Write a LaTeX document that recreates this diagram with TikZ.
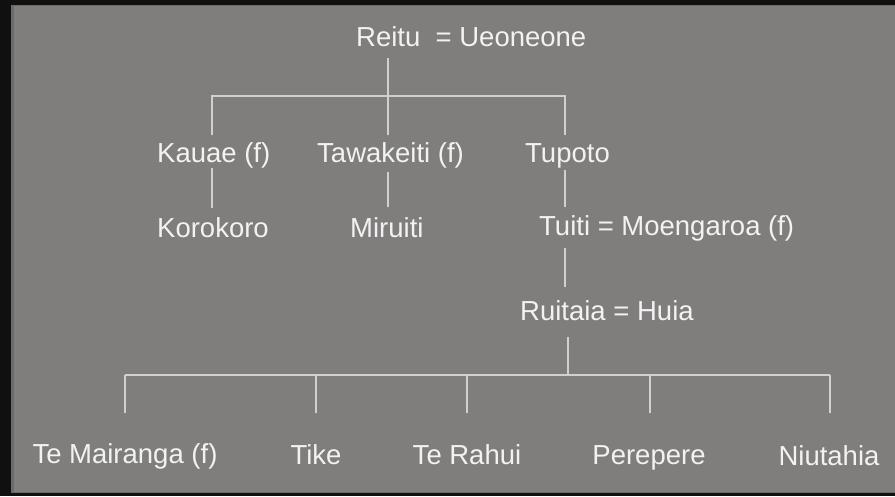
\documentclass[tikz,border=0pt]{standalone}
\usepackage{fontspec}
\setmainfont{Liberation Sans}
\definecolor{bg}{HTML}{807E7D}
\definecolor{edge}{HTML}{101010}
\definecolor{txt}{HTML}{F2F2F2}
\definecolor{ln}{HTML}{D0D0D0}
\begin{document}
\begin{tikzpicture}[x=1pt,y=-1pt,
  person/.style={inner sep=0pt,text=txt,font=\fontsize{27.5}{32}\selectfont},
  lw/.style={person,anchor=base west},
  lc/.style={person,anchor=base},
  link/.style={draw=ln,line width=1.6pt}]
\useasboundingbox (0,0) rectangle (895,496);
\fill[edge] (0,0) rectangle (895,496);
\fill[bg!85!black] (11,5) rectangle (895,493);
\fill[bg] (14,6) rectangle (895,492);
% people
\node[lw] (reitu) at (356,46) {Reitu\ \ = Ueoneone};
\node[lw] (kauae) at (157,162) {Kauae (f)};
\node[lw] (tawa) at (317,162) {Tawakeiti (f)};
\node[lw] (tupoto) at (525,162) {Tupoto};
\node[lw] (koro) at (157,237) {Korokoro};
\node[lw] (miru) at (350,237) {Miruiti};
\node[lw] (tuiti) at (539,235) {Tuiti = Moengaroa (f)};
\node[lw] (rui) at (520,320) {Ruitaia = Huia};
\node[lc] (mai) at (125,463) {Te Mairanga (f)};
\node[lc] (tike) at (316,464) {Tike};
\node[lc] (rahui) at (467,464) {Te Rahui};
\node[lc] (pere) at (649,464) {Perepere};
\node[lc] (niu) at (829,465) {Niutahia};
% junction coordinates
\coordinate (r0) at (388,58);
\coordinate (bl) at (212,96);
\coordinate (br) at (565,96);
\coordinate (kt) at (212,135);
\coordinate (tt) at (388,135);
\coordinate (ut) at (565,135);
\coordinate (kb) at (212,168);
\coordinate (ko) at (212,208);
\coordinate (tb) at (388,172);
\coordinate (mi) at (388,207);
\coordinate (ub) at (565,170);
\coordinate (tu) at (565,207);
\coordinate (tub) at (565,248);
\coordinate (ru) at (565,287);
\coordinate (rub) at (568,337);
\coordinate (rj) at (568,375);
\coordinate (cl) at (125,375);
\coordinate (cr) at (830,375);
% connectors
\draw[link] (r0) -- (tt);
\draw[link] (kt) -- (bl) -- (br) -- (ut);
\draw[link] (kb) -- (ko);
\draw[link] (tb) -- (mi);
\draw[link] (ub) -- (tu);
\draw[link] (tub) -- (ru);
\draw[link] (rub) -- (rj);
\draw[link] (cl) -- (cr);
\foreach \x in {125,316,467,650,830}
  \draw[link] (\x,375) -- (\x,413);
\end{tikzpicture}
\end{document}
